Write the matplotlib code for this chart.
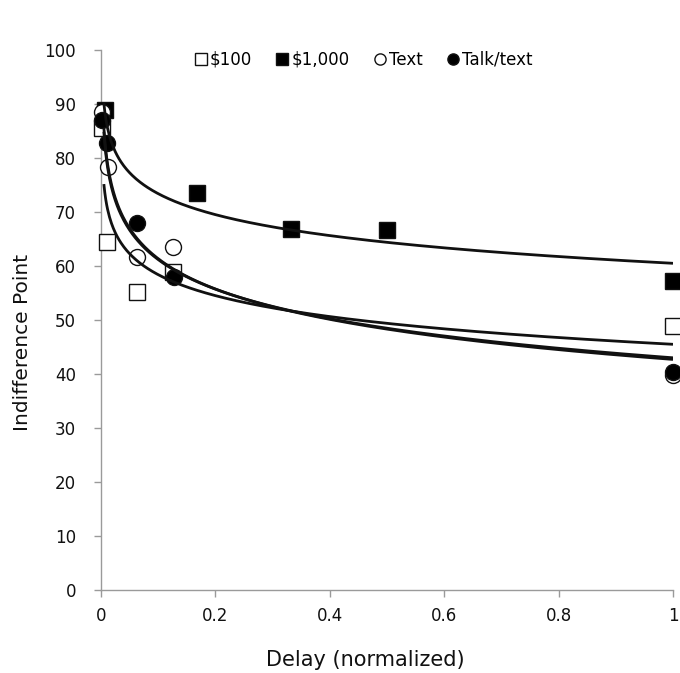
import numpy as np
import matplotlib
matplotlib.use("Agg")
import matplotlib.pyplot as plt

# ---- data ----
x_100 = [0.001, 0.011, 0.0625, 0.125, 1.0]
y_100 = [85.5, 64.5, 55.2, 58.9, 48.9]

x_1000 = [0.007, 0.167, 0.333, 0.5, 1.0]
y_1000 = [88.9, 73.6, 66.8, 66.7, 57.2]

x_text = [0.001, 0.013, 0.0635, 0.126, 1.0]
y_text = [88.6, 78.4, 61.7, 63.5, 39.8]

x_talk = [0.001, 0.011, 0.0635, 0.128, 1.0]
y_talk = [87.0, 82.7, 68.0, 57.9, 40.4]

# logarithmic trendlines y = a + b*ln(x), parameters
fit_a = {"$100": 45.5, "$1,000": 60.5, "Text": 43.0, "Talk/text": 42.7}
fit_b = {"$100": -5.6, "$1,000": -5.6, "Text": -7.9, "Talk/text": -8.1}
fit_xmin = 0.005

x_ticks = [0, 0.2, 0.4, 0.6, 0.8, 1]
x_ticklabels = ["0", "0.2", "0.4", "0.6", "0.8", "1"]
y_ticks = list(range(0, 101, 10))

W, H = 680, 673
fig = plt.figure(figsize=(W / 100, H / 100), dpi=100)
ax = fig.add_axes([101 / W, (H - 590) / H, (673 - 101) / W, (590 - 50) / H])

font = "DejaVu Sans"

# trendlines
xs = np.linspace(fit_xmin, 1.0, 600)
for name in ["$100", "$1,000", "Text", "Talk/text"]:
    ax.plot(xs, fit_a[name] + fit_b[name] * np.log(xs), color="#111111",
            lw=2.0, zorder=4, solid_capstyle="butt")

ms = 11.5
common = dict(linestyle="none", markeredgecolor="#111111", markeredgewidth=1.0,
              clip_on=False, zorder=3)
h1, = ax.plot(x_100, y_100, marker="s", markerfacecolor="white", markersize=ms, **common)
h2, = ax.plot(x_1000, y_1000, marker="s", markerfacecolor="black", markersize=ms, **common)
h3, = ax.plot(x_text, y_text, marker="o", markerfacecolor="white", markersize=ms, **common)
h4, = ax.plot(x_talk, y_talk, marker="o", markerfacecolor="black", markersize=ms, **common)

ax.set_xlim(0, 1)
ax.set_ylim(0, 100)
ax.set_xticks(x_ticks)
ax.set_xticklabels(x_ticklabels)
ax.set_yticks(y_ticks)

for s in ["top", "right"]:
    ax.spines[s].set_visible(False)
for s in ["left", "bottom"]:
    ax.spines[s].set_color("#9a9a9a")
    ax.spines[s].set_linewidth(1.0)

ax.tick_params(axis="both", colors="#9a9a9a", length=5, width=1, direction="out",
               labelcolor="#111111", labelsize=12)
ax.tick_params(axis="y", pad=13)
ax.tick_params(axis="x", pad=7)
for lab in ax.get_xticklabels() + ax.get_yticklabels():
    lab.set_fontfamily(font)

ax.set_xlabel("Delay (normalized)", fontsize=15, fontfamily=font,
              color="#111111", va="center")
ax.set_ylabel("Indifference Point", fontsize=14.5, fontfamily=font,
              color="#111111", va="center")
ax.xaxis.set_label_coords((365 - 101) / 572, -(660 - 590) / 540)
ax.yaxis.set_label_coords((22 - 101) / 572, (590 - 342) / 540)

leg = ax.legend([h1, h2, h3, h4], [r"\$100", r"\$1,000", "Text", "Talk/text"],
                loc="upper center", bbox_to_anchor=(0.457, 1.026), ncol=4,
                frameon=False, handletextpad=0.05, columnspacing=1.3,
                markerscale=0.7, handlelength=1.0,
                prop={"family": font, "size": 12})

fig.savefig("out.png", dpi=100)
